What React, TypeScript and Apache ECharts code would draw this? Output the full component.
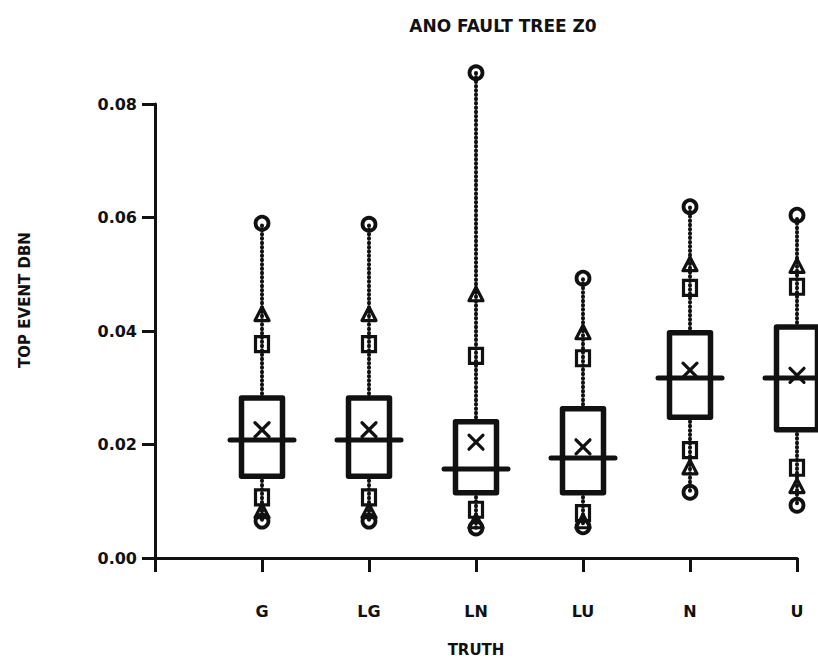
import React, { useEffect, useRef } from "react";
import * as echarts from "echarts";

const categories = ["G", "LG", "LN", "LU", "N", "U"];
const maxVals = [0.059, 0.0588, 0.0855, 0.0493, 0.0619, 0.0604];
const upperTri = [0.0428, 0.0428, 0.0463, 0.0396, 0.0516, 0.0513];
const upperSq = [0.0377, 0.0377, 0.0356, 0.0352, 0.0476, 0.0478];
const q3Vals = [0.0282, 0.0282, 0.024, 0.0263, 0.0397, 0.0407];
const meanVals = [0.0226, 0.0226, 0.0204, 0.0196, 0.0331, 0.0322];
const medianVals = [0.0208, 0.0208, 0.0157, 0.0176, 0.0317, 0.0317];
const q1Vals = [0.0144, 0.0144, 0.0115, 0.0115, 0.0248, 0.0226];
const lowerSq = [0.0107, 0.0107, 0.0085, 0.0079, 0.019, 0.0159];
const lowerTri = [0.0081, 0.0081, 0.0063, 0.0063, 0.0158, 0.0125];
const minVals = [0.0065, 0.0065, 0.0053, 0.0055, 0.0116, 0.0093];
const yTicks = [0, 0.02, 0.04, 0.06, 0.08];

const INK = "#111";
const FONT = "DejaVu Sans";

export default function App() {
  const ref = useRef<HTMLDivElement>(null);

  useEffect(() => {
    if (!ref.current) return;
    const chart = echarts.init(ref.current, null, { renderer: "svg" });

    const data = categories.map((_, i) => [
      i + 1,
      maxVals[i],
      upperTri[i],
      upperSq[i],
      q3Vals[i],
      meanVals[i],
      medianVals[i],
      q1Vals[i],
      lowerSq[i],
      lowerTri[i],
      minVals[i],
    ]);

    const renderItem = (params: any, api: any) => {
      const xv = api.value(0);
      const pt = (v: number) => api.coord([xv, v]);
      const x = pt(0)[0];
      const yMax = pt(api.value(1))[1];
      const yUT = pt(api.value(2))[1];
      const yUS = pt(api.value(3))[1];
      const yQ3 = pt(api.value(4))[1];
      const yMean = pt(api.value(5))[1];
      const yMed = pt(api.value(6))[1];
      const yQ1 = pt(api.value(7))[1];
      const yLS = pt(api.value(8))[1];
      const yLT = pt(api.value(9))[1];
      const yMin = pt(api.value(10))[1];

      const dotted = {
        stroke: INK,
        lineWidth: 4,
        lineDash: [0.5, 3.8],
        lineCap: "round",
        fill: null,
      };
      const solid = (w: number) => ({ stroke: INK, lineWidth: w, fill: null, lineCap: "round" });
      const bw = 41;
      const children: any[] = [
        { type: "line", shape: { x1: x, y1: yQ3, x2: x, y2: yMax }, style: dotted },
        { type: "line", shape: { x1: x, y1: yQ1, x2: x, y2: yMin }, style: dotted },
        {
          type: "rect",
          shape: { x: x - bw / 2, y: yQ3, width: bw, height: yQ1 - yQ3 },
          style: { stroke: INK, lineWidth: 5.5, fill: "#fff", lineJoin: "round" },
        },
        { type: "line", shape: { x1: x - 32, y1: yMed, x2: x + 32, y2: yMed }, style: solid(5) },
        { type: "line", shape: { x1: x - 7, y1: yMean - 7, x2: x + 7, y2: yMean + 7 }, style: solid(3.2) },
        { type: "line", shape: { x1: x - 7, y1: yMean + 7, x2: x + 7, y2: yMean - 7 }, style: solid(3.2) },
      ];
      const square = (y: number) => ({
        type: "rect",
        shape: { x: x - 6.5, y: y - 7.5, width: 13, height: 15 },
        style: { stroke: INK, lineWidth: 3.2, fill: null },
      });
      const tri = (y: number) => ({
        type: "polygon",
        shape: { points: [[x, y - 8], [x + 7, y + 5.5], [x - 7, y + 5.5]] },
        style: { stroke: INK, lineWidth: 3.2, fill: null, lineJoin: "round" },
      });
      const circ = (y: number) => ({
        type: "circle",
        shape: { cx: x, cy: y, r: 6.5 },
        style: { stroke: INK, lineWidth: 3.8, fill: null },
      });
      children.push(square(yUS), tri(yUT), circ(yMax), square(yLS), tri(yLT), circ(yMin));
      return { type: "group", children };
    };

    chart.setOption({
      animation: false,
      backgroundColor: "#fff",
      grid: { left: 155, right: 21, top: 104, bottom: 107, containLabel: false },
      xAxis: {
        type: "value",
        min: 0,
        max: 6,
        interval: 1,
        name: "TRUTH",
        nameLocation: "middle",
        nameGap: 84,
        nameTextStyle: { fontFamily: FONT, fontWeight: "bold", fontSize: 15, color: INK, verticalAlign: "top" },
        splitLine: { show: false },
        axisLine: { show: true, onZero: false, lineStyle: { color: INK, width: 3 } },
        axisTick: { show: true, length: 14, lineStyle: { color: INK, width: 3 } },
        axisLabel: {
          margin: 45,
          fontFamily: FONT,
          fontWeight: "bold",
          fontSize: 16,
          color: INK,
          formatter: (v: number) => (v >= 1 ? categories[Math.round(v) - 1] : ""),
        },
      },
      yAxis: {
        type: "value",
        min: yTicks[0],
        max: yTicks[yTicks.length - 1],
        interval: 0.02,
        splitLine: { show: false },
        axisLine: { show: true, lineStyle: { color: INK, width: 3 } },
        axisTick: { show: true, length: 13, lineStyle: { color: INK, width: 3 } },
        axisLabel: {
          margin: 18,
          fontFamily: FONT,
          fontWeight: "bold",
          fontSize: 16,
          color: INK,
          formatter: (v: number) => v.toFixed(2),
        },
      },
      graphic: [
        {
          type: "text",
          x: 503,
          y: 26,
          style: {
            text: "ANO FAULT TREE Z0",
            fontFamily: FONT,
            fontWeight: "bold",
            fontSize: 17,
            fill: INK,
            textAlign: "center",
            textVerticalAlign: "middle",
          },
        },
        {
          type: "text",
          x: 25,
          y: 300,
          rotation: Math.PI / 2,
          style: {
            text: "TOP EVENT DBN",
            fontFamily: FONT,
            fontWeight: "bold",
            fontSize: 15,
            fill: INK,
            textAlign: "center",
            textVerticalAlign: "middle",
          },
        },
      ],
      series: [
        {
          type: "custom",
          clip: false,
          renderItem,
          encode: { x: 0, y: [1, 2, 3, 4, 5, 6, 7, 8, 9, 10] },
          data,
        },
      ],
    });

    return () => chart.dispose();
  }, []);

  return (
    <div
      ref={ref}
      style={{ position: "absolute", left: 0, top: 0, width: 818, height: 665 }}
    />
  );
}
